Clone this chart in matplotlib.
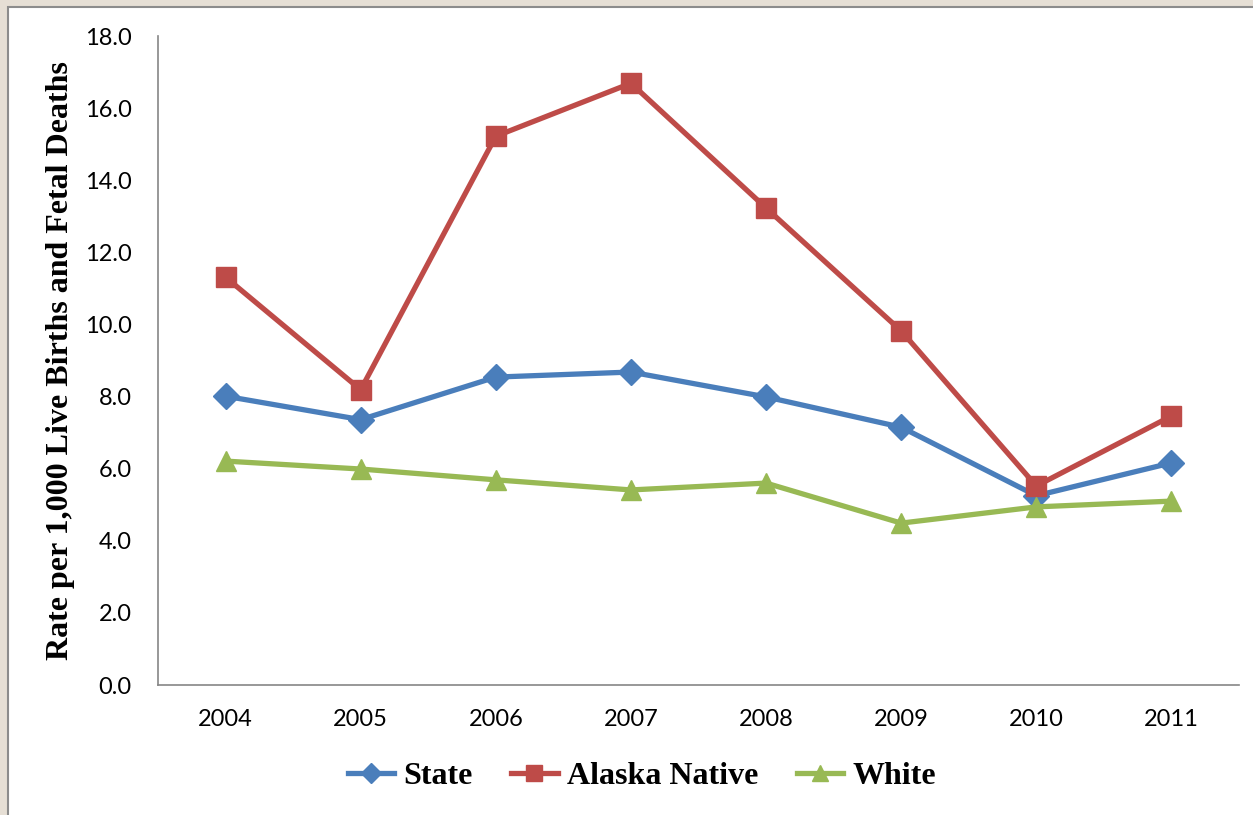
import matplotlib.pyplot as plt
from matplotlib.patches import Rectangle

years = ['2004', '2005', '2006', '2007', '2008', '2009', '2010', '2011']
state = [8.01, 7.36, 8.54, 8.68, 7.99, 7.15, 5.25, 6.16]
alaska_native = [11.31, 8.19, 15.22, 16.69, 13.23, 9.82, 5.52, 7.46]
white = [6.21, 5.99, 5.69, 5.41, 5.60, 4.49, 4.94, 5.10]

fig = plt.figure(figsize=(12.53, 8.15), dpi=100, facecolor='#e6dfd5')
# white chart panel with grey frame
fig.patches.append(Rectangle((8 / 1253, -0.01), 1.0, 1 - 7 / 815 + 0.01,
                             transform=fig.transFigure, facecolor='white',
                             edgecolor='#8c8c8c', linewidth=1.5, zorder=-5))

ax = fig.add_axes([158 / 1253, 1 - 685 / 815, (1239 - 158) / 1253, (685 - 36) / 815])
ax.patch.set_alpha(0)
x = range(len(years))
ax.plot(x, state, color='#4a7ebb', lw=3.8, marker='D', ms=13, label='State')
ax.plot(x, alaska_native, color='#be4b48', lw=3.8, marker='s', ms=14, label='Alaska Native')
ax.plot(x, white, color='#98b954', lw=3.8, marker='^', ms=14, label='White')

ax.set_xlim(-0.5, 7.5)
ax.set_ylim(0, 18)
ax.set_yticks([0, 2, 4, 6, 8, 10, 12, 14, 16, 18])
ax.set_yticklabels(['%.1f' % v for v in ax.get_yticks()])
ax.set_xticks(list(x))
ax.set_xticklabels(years)
for s in ['top', 'right']:
    ax.spines[s].set_visible(False)
for s in ['left', 'bottom']:
    ax.spines[s].set_color('#868686')
    ax.spines[s].set_linewidth(1.2)
ax.tick_params(length=0, labelsize=17)
ax.tick_params(axis='y', pad=19)
ax.tick_params(axis='x', pad=17)
for lab in ax.get_xticklabels() + ax.get_yticklabels():
    lab.set_family('Lato')

ax.set_ylabel('Rate per 1,000 Live Births and Fetal Deaths', family='Liberation Serif',
              fontweight='bold', fontsize=23)
ax.yaxis.set_label_coords(-0.077, 0.5)

leg = fig.legend(loc='center', bbox_to_anchor=(642 / 1253, 1 - 776 / 815), ncol=3, frameon=False,
                 prop={'family': 'Liberation Serif', 'weight': 'bold', 'size': 23},
                 handlelength=1.45, columnspacing=1.2, handletextpad=0.3, markerscale=0.8)

fig.savefig('out.png', dpi=100, facecolor=fig.get_facecolor())
